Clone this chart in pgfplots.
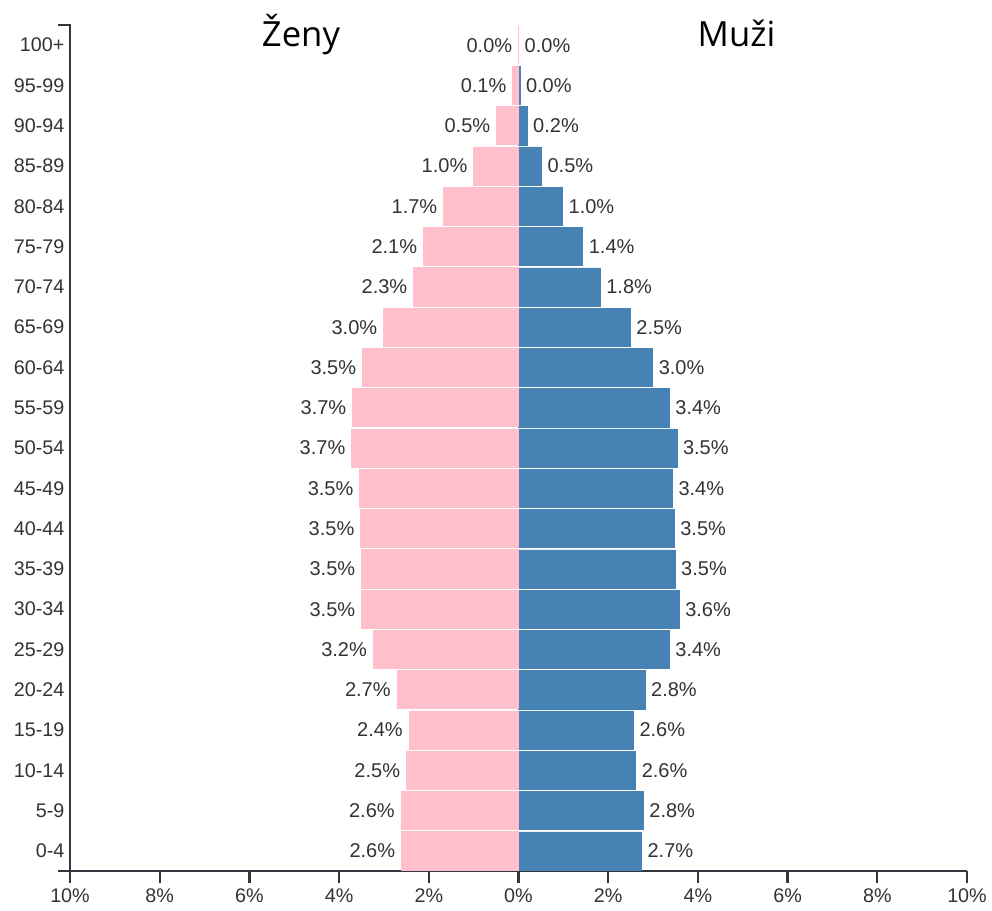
\documentclass[border=0pt]{standalone}
\usepackage{pgfplots}
\pgfplotsset{compat=1.18}
\usepackage{pgfplotstable}
\usepackage{fontspec}
\setmainfont{Liberation Sans}
\newfontfamily\titlefont{Open Sans}
\usetikzlibrary{calc}
\definecolor{fpink}{HTML}{FFC0CB}
\definecolor{mblue}{HTML}{4682B4}
\definecolor{axgray}{HTML}{35353F}
\definecolor{txtgray}{HTML}{333333}
\pgfplotstableread{
y f fl m ml
0 2.61 2.6\% 2.74 2.7\%
1 2.62 2.6\% 2.78 2.8\%
2 2.50 2.5\% 2.61 2.6\%
3 2.44 2.4\% 2.56 2.6\%
4 2.71 2.7\% 2.82 2.8\%
5 3.24 3.2\% 3.36 3.4\%
6 3.50 3.5\% 3.58 3.6\%
7 3.50 3.5\% 3.49 3.5\%
8 3.52 3.5\% 3.47 3.5\%
9 3.54 3.5\% 3.43 3.4\%
10 3.72 3.7\% 3.53 3.5\%
11 3.70 3.7\% 3.36 3.4\%
12 3.48 3.5\% 2.99 3.0\%
13 3.01 3.0\% 2.49 2.5\%
14 2.34 2.3\% 1.82 1.8\%
15 2.12 2.1\% 1.43 1.4\%
16 1.67 1.7\% 0.98 1.0\%
17 1.00 1.0\% 0.51 0.5\%
18 0.49 0.5\% 0.19 0.2\%
19 0.13 0.1\% 0.03 0.0\%
20 0.00 0.0\% 0.00 0.0\%
}\pyr
\begin{document}
\begin{tikzpicture}
\begin{axis}[
  name=a, at={(0,0)}, anchor=south west,
  scale only axis, width=672.75pt, height=634.5pt,
  xmin=-10, xmax=10, ymin=-0.5, ymax=20.5,
  xbar, bar width=28.6pt, bar shift=0pt,
  axis x line*=bottom, axis y line*=left,
  x axis line style={draw=axgray, line width=1.7pt, -},
  y axis line style={draw=none, -},
  xtick={-10,-8,-6,-4,-2,0,2,4,6,8,10},
  xticklabels={10\%,8\%,6\%,4\%,2\%,0\%,2\%,4\%,6\%,8\%,10\%},
  ytick={0,...,20},
  yticklabels={0-4,5-9,10-14,15-19,20-24,25-29,30-34,35-39,40-44,45-49,50-54,55-59,60-64,65-69,70-74,75-79,80-84,85-89,90-94,95-99,100+},
  tick align=outside, major tick length=9pt,
  xtick style={draw=axgray, line width=1.7pt},
  ytick style={draw=none},
  ticklabel style={font=\fontsize{14.8}{17}\selectfont, text=txtgray},
  yticklabel style={inner sep=0pt, xshift=5pt},
  xticklabel style={inner sep=0pt, yshift=-4pt},
  clip=false,
  nodes near coords={\pgfplotspointmeta},
  every node near coord/.append style={font=\fontsize{15}{17}\selectfont, text=txtgray, inner sep=0pt},
]
\addplot[fill=mblue, draw=mblue, line width=0.3pt, point meta=explicit symbolic,
  every node near coord/.append style={anchor=west, xshift=4.5pt}]
  table[x=m, y=y, meta=ml] {\pyr};
\addplot[fill=fpink, draw=fpink, line width=0.5pt, point meta=explicit symbolic,
  every node near coord/.append style={anchor=east, xshift=-4.5pt}]
  table[x expr=-\thisrow{f}, y=y, meta=fl] {\pyr};
\coordinate (fz) at (axis cs:-4.85,20.5);
\coordinate (mz) at (axis cs:4.86,20.5);
\end{axis}
\draw[axgray, line width=1.7pt] ($(a.north west)+(-9pt,0)$) -- (a.north west) -- (a.south west) -- ++(-9pt,0);
\node[anchor=base, font=\titlefont\fontsize{26}{30}\selectfont, inner sep=0pt] at ($(fz)+(0,-16.5pt)$) {Ženy};
\node[anchor=base, font=\titlefont\fontsize{26}{30}\selectfont, inner sep=0pt] at ($(mz)+(0,-16.5pt)$) {Muži};
\pgfresetboundingbox
\path ($(a.south west)+(-52.5pt,-29.25pt)$) rectangle ($(a.north east)+(18.75pt,18.75pt)$);
\end{tikzpicture}
\end{document}
